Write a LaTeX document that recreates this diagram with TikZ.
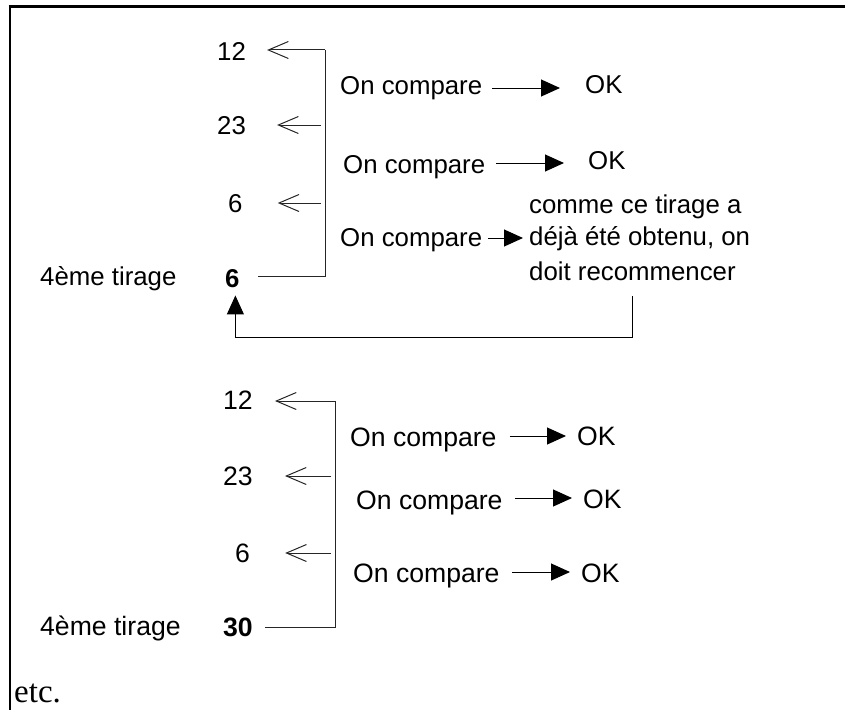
\documentclass[tikz,border=0pt]{standalone}
\usepackage{fontspec}
\setmainfont{Liberation Sans}
\newfontfamily\serifetc{Liberation Serif}
\usetikzlibrary{arrows.meta}
\begin{document}
\begin{tikzpicture}[x=1pt,y=-1pt,
  txt/.style={inner sep=0pt, anchor=base west, font=\fontsize{25.8}{30}\selectfont},
  txtb/.style={inner sep=0pt, anchor=base west, font=\fontsize{26.6}{31}\selectfont},
  ln/.style={line width=1pt, black!85},
  oa/.style={line width=1pt, black!85, -{Straight Barb[length=20pt,width=17pt]}},
  fa/.style={line width=1pt, -{Triangle[length=19pt,width=17pt]}},
  frame/.style={line width=2.6pt}]
\useasboundingbox (0,0) rectangle (845,709);
% frame
\draw[frame] (8.7,6.5) -- (850,6.5);
\draw[frame] (10,5.2) -- (10,715);

% ---------- top block ----------
\node[txt] (n12) at (217,60) {12};
\node[txt] (n23) at (217,134) {23};
\node[txt] (n6a) at (228,212) {6};
\node[txt] (t1) at (40,285) {4ème tirage};
\node[txt, font=\fontsize{25.8}{30}\selectfont\bfseries] (n6b) at (225,287) {6};

\coordinate (j1) at (325,50);
\coordinate (j2) at (321,125);
\coordinate (j3) at (321,203);
\coordinate (j4) at (325,276);
\draw[ln, shorten >=18.7pt] (j1) -- (j4) -- (j4 -| n6b.east);
\draw[oa, shorten >=21pt] (j1) -- (j1 -| n12.east);
\draw[oa, shorten >=31pt] (j2) -- (j2 -| n23.east);
\draw[oa, shorten >=35pt] (j3) -- (j3 -| n6a.east);

\node[txt] (r1) at (340,94) {On compare};
\node[txt] (ok1) at (585,93) {OK};
\node[txt] (r2) at (343,173) {On compare};
\node[txt] (ok2) at (588,169) {OK};
\node[txt] (r3) at (340,246) {On compare};
\node[txt] (d1) at (529,213) {comme ce tirage a};
\node[txt] (d2) at (529,245) {déjà été obtenu, on};
\node[txt] (d3) at (529,280) {doit recommencer};

\coordinate (a1) at ([xshift=10pt,yshift=6pt]r1.base east);
\coordinate (a2) at ([xshift=11pt,yshift=10pt]r2.base east);
\coordinate (a3) at ([xshift=6pt,yshift=8pt]r3.base east);
\draw[fa, shorten >=25pt] (a1) -- (a1 -| ok1.west);
\draw[fa, shorten >=24pt] (a2) -- (a2 -| ok2.west);
\draw[fa, shorten >=6pt] (a3) -- (a3 -| d2.west);

\coordinate (fb) at (632,296);
\coordinate (fc) at (632,337);
\draw[fa, shorten >=8pt] (fb) -- (fc) -| ([xshift=3pt]n6b.south);

% ---------- bottom block ----------
\node[txtb] (m12) at (223,409) {12};
\node[txtb] (m23) at (223,485) {23};
\node[txtb] (m6) at (235,562) {6};
\node[txtb] (t2) at (40,635) {4ème tirage};
\node[txtb, font=\fontsize{26.6}{31}\selectfont\bfseries] (m30) at (223,636) {30};

\coordinate (k1) at (335,401);
\coordinate (k2) at (331,476);
\coordinate (k3) at (331,553);
\coordinate (k4) at (335,627);
\draw[ln, shorten >=12pt] (k1) -- (k4) -- (k4 -| m30.east);
\draw[oa, shorten >=22pt] (k1) -- (k1 -| m12.east);
\draw[oa, shorten >=32pt] (k2) -- (k2 -| m23.east);
\draw[oa, shorten >=35pt] (k3) -- (k3 -| m6.east);

\node[txtb] (s1) at (350,446) {On compare};
\node[txtb] (ok3) at (577,445) {OK};
\node[txtb] (s2) at (356,509) {On compare};
\node[txtb] (ok4) at (583,508) {OK};
\node[txtb] (s3) at (353,582) {On compare};
\node[txtb] (ok5) at (581,582) {OK};

\coordinate (b1) at ([xshift=13pt,yshift=10pt]s1.base east);
\coordinate (b2) at ([xshift=12pt,yshift=11pt]s2.base east);
\coordinate (b3) at ([xshift=12.6pt,yshift=10pt]s3.base east);
\draw[fa, shorten >=11pt] (b1) -- (b1 -| ok3.west);
\draw[fa, shorten >=11pt] (b2) -- (b2 -| ok4.west);
\draw[fa, shorten >=11pt] (b3) -- (b3 -| ok5.west);

\node[inner sep=0pt, anchor=base west, font=\serifetc\fontsize{33}{38}\selectfont] (etc) at (14,702) {etc.};
\end{tikzpicture}
\end{document}
